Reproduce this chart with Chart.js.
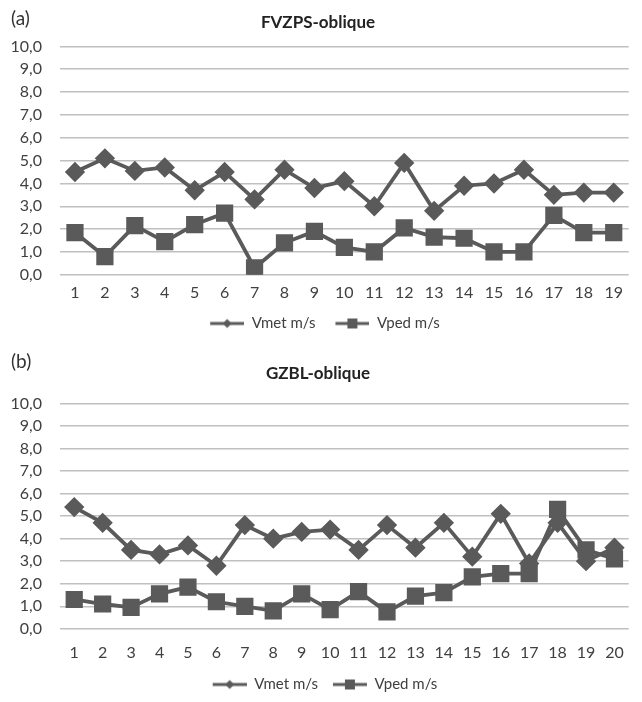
<!DOCTYPE html>
<html>
<head>
<meta charset="utf-8">
<script src="https://cdn.jsdelivr.net/npm/chart.js@4.4.1/dist/chart.umd.min.js"></script>
<style>
  body { margin: 0; background: #ffffff; }
  #wrap { position: relative; width: 642px; height: 702px; }
  .panel { position: absolute; left: 0; width: 642px; }
  .tag { position: absolute; left: 11px; font: 19px Lato, sans-serif; color: #333; }
</style>
</head>
<body>
<div id="wrap">
  <div class="panel" style="top:0;height:345px"><canvas id="chart-a"></canvas></div>
  <div class="panel" style="top:345px;height:357px"><canvas id="chart-b"></canvas></div>
  <div class="tag" style="top:6px">(a)</div>
  <div class="tag" style="top:349px">(b)</div>
</div>
<script>
// FVZPS-oblique, subjects 1..19
var catsA = ['1','2','3','4','5','6','7','8','9','10','11','12','13','14','15','16','17','18','19'];
var vmetA = [4.5, 5.1, 4.55, 4.7, 3.7, 4.5, 3.3, 4.6, 3.8, 4.1, 3.0, 4.9, 2.8, 3.9, 4.0, 4.6, 3.5, 3.6, 3.6];
var vpedA = [1.85, 0.8, 2.15, 1.45, 2.2, 2.7, 0.3, 1.4, 1.9, 1.2, 1.0, 2.05, 1.65, 1.6, 1.0, 1.0, 2.6, 1.85, 1.85];

// GZBL-oblique, subjects 1..20
var catsB = ['1','2','3','4','5','6','7','8','9','10','11','12','13','14','15','16','17','18','19','20'];
var vmetB = [5.4, 4.7, 3.5, 3.3, 3.7, 2.8, 4.6, 4.0, 4.3, 4.4, 3.5, 4.6, 3.6, 4.7, 3.2, 5.1, 2.9, 4.7, 3.0, 3.6];
var vpedB = [1.3, 1.1, 0.95, 1.55, 1.85, 1.2, 1.0, 0.8, 1.55, 0.85, 1.65, 0.75, 1.45, 1.6, 2.3, 2.45, 2.45, 5.3, 3.5, 3.1];

var seriesNames = ['Vmet m/s', 'Vped m/s'];
var yMin = 0, yMax = 10, yStep = 1;

var ink = '#5a5a5a';
var gridColor = '#c0c0c0';
var textColor = '#404040';

// legend swatch: short line with the marker in the middle (left margin = gap between items)
function swatch(shape) {
    var c = document.createElement('canvas');
    c.width = 48; c.height = 14;
    var g = c.getContext('2d');
    g.strokeStyle = ink; g.fillStyle = ink; g.lineWidth = 3;
    g.beginPath(); g.moveTo(14, 7); g.lineTo(48, 7); g.stroke();
    g.beginPath();
    if (shape == 'diamond') {
        g.moveTo(31, 2.5); g.lineTo(35.5, 7); g.lineTo(31, 11.5); g.lineTo(26.5, 7);
    } else {
        g.rect(26, 2, 10, 10);
    }
    g.closePath(); g.fill();
    return c;
}
var swDiamond = swatch('diamond');
var swSquare = swatch('square');

function makeChart(id, title, cats, vmet, vped, pad) {
    var ctx = document.getElementById(id).getContext('2d');
    return new Chart(ctx, {
        type: 'line',
        data: {
            labels: cats,
            datasets: [{
                label: seriesNames[0],
                data: vmet,
                borderColor: ink,
                backgroundColor: ink,
                borderWidth: 3.8,
                pointStyle: 'rectRot',
                pointRadius: 7.5,
                pointHoverRadius: 7.5,
                tension: 0
            }, {
                label: seriesNames[1],
                data: vped,
                borderColor: ink,
                backgroundColor: ink,
                borderWidth: 3.8,
                pointStyle: 'rect',
                pointRadius: 9.5,
                pointHoverRadius: 9.5,
                tension: 0
            }]
        },
        options: {
            responsive: true,
            maintainAspectRatio: false,
            animation: false,
            layout: { padding: { left: 0, right: 6, top: 0, bottom: pad.bottom } },
            plugins: {
                tooltip: { enabled: false },
                title: {
                    display: true,
                    text: title,
                    color: '#222',
                    font: { family: 'Lato', size: 17, weight: 'bold' },
                    padding: { top: pad.titleTop, bottom: pad.titleBottom }
                },
                legend: {
                    position: 'bottom',
                    labels: {
                        color: textColor,
                        font: { family: 'Lato', size: 15 },
                        usePointStyle: true,
                        pointStyleWidth: 48,
                        boxHeight: 14,
                        padding: pad.legend,
                        generateLabels: function(chart) {
                            return chart.data.datasets.map(function(ds, i) {
                                return {
                                    text: ds.label,
                                    pointStyle: i == 0 ? swDiamond : swSquare,
                                    fontColor: textColor,
                                    datasetIndex: i,
                                    hidden: false,
                                    lineWidth: 0
                                };
                            });
                        }
                    }
                }
            },
            scales: {
                x: {
                    offset: true,
                    grid: { display: false, drawTicks: false },
                    border: { display: false },
                    ticks: {
                        color: textColor,
                        font: { family: 'Lato', size: 16 },
                        padding: pad.xTicks,
                        maxRotation: 0,
                        autoSkip: false
                    }
                },
                y: {
                    min: yMin,
                    max: yMax,
                    afterFit: function(scale) { scale.width = 60; },
                    grid: { color: gridColor, lineWidth: 1.5, drawTicks: false },
                    border: { display: false },
                    ticks: {
                        stepSize: yStep,
                        autoSkip: false,
                        color: textColor,
                        font: { family: 'Lato', size: 16 },
                        padding: 18,
                        callback: function(v) { return v.toFixed(1).replace('.', ','); }
                    }
                }
            }
        }
    });
}

makeChart('chart-a', 'FVZPS-oblique', catsA, vmetA, vpedA,
    { titleTop: 12, titleBottom: 14, xTicks: 8, legend: 6, bottom: 4 });
makeChart('chart-b', 'GZBL-oblique', catsB, vmetB, vpedB,
    { titleTop: 18, titleBottom: 20, xTicks: 14, legend: 1, bottom: 0 });
</script>
</body>
</html>
